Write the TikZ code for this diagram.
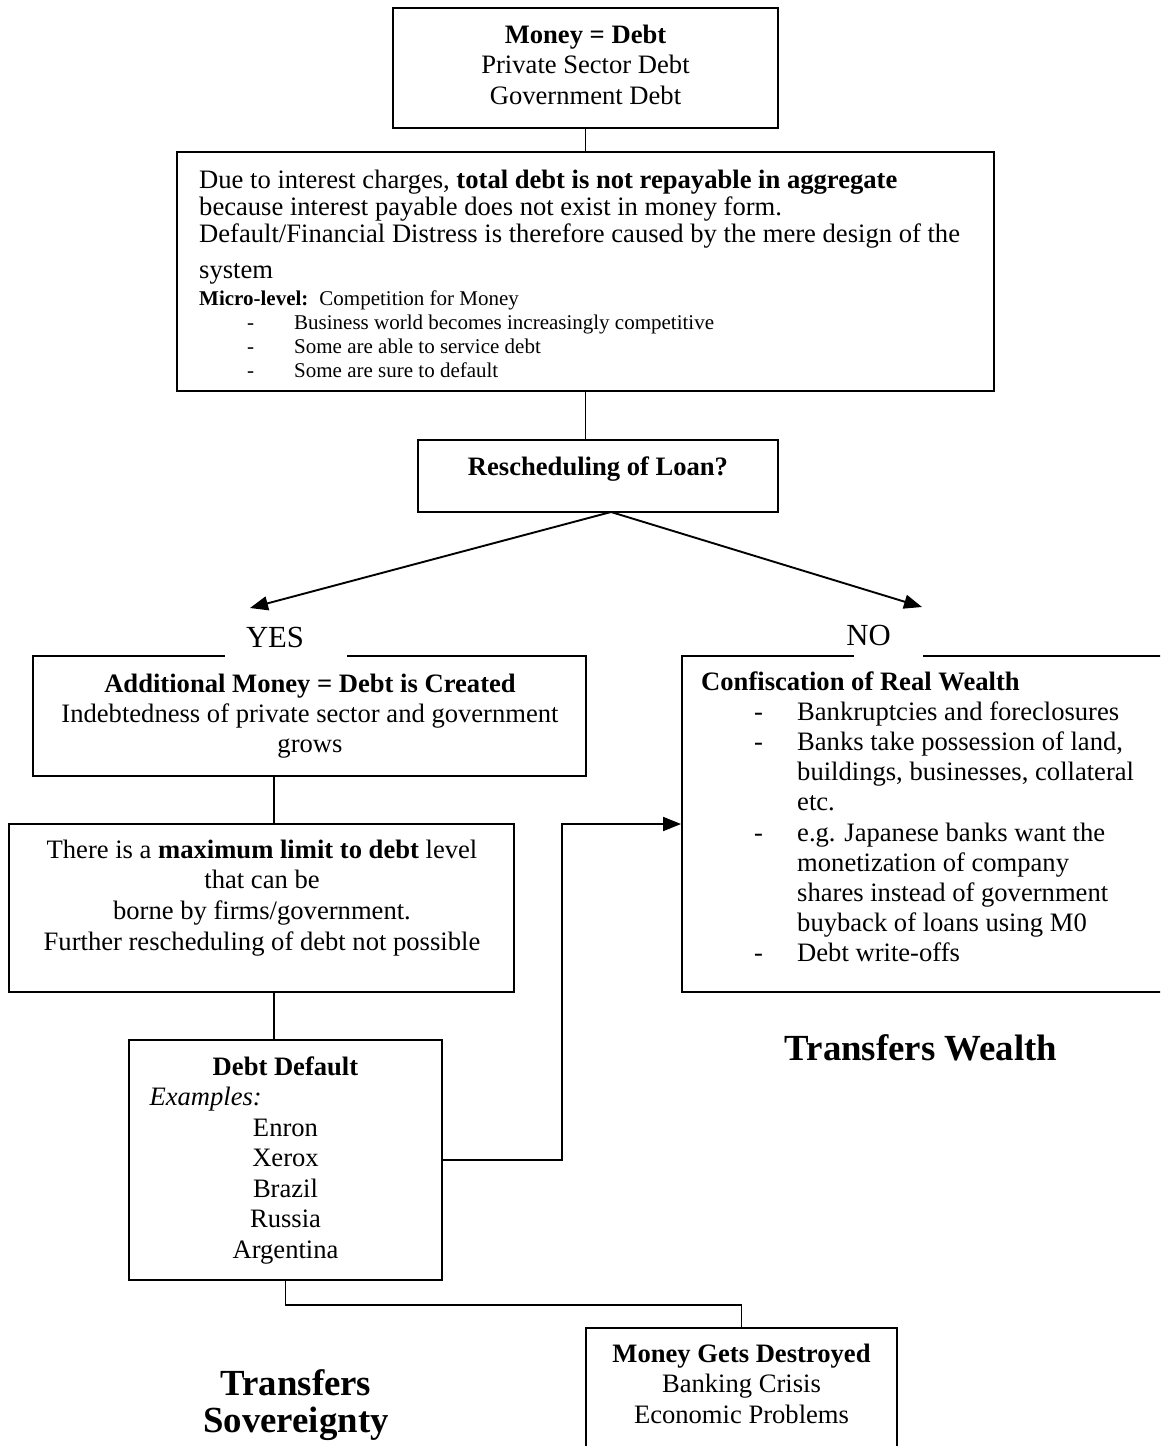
\documentclass[tikz,border=0pt]{standalone}
\usepackage{fontspec}
\setmainfont{Liberation Serif}
\usetikzlibrary{arrows.meta}
\newcommand\fmain{\fontsize{26.6pt}{30.5pt}\selectfont}
\newcommand\fsmall{\fontsize{21pt}{24.3pt}\selectfont}
\newcommand\flabel{\fontsize{30.7pt}{36pt}\selectfont}
\newcommand\fbig{\fontsize{36.8pt}{37pt}\selectfont\bfseries}
\begin{document}
\begin{tikzpicture}[x=1pt,y=-1pt,
  box/.style 2 args={draw, line width=1.9pt, inner sep=0pt, minimum width=#1, minimum height=#2},
  conn/.style={line width=1.9pt},
  arr/.style={line width=1.9pt, -{Triangle[length=18pt,width=14pt]}},
  txtc/.style={inner sep=0pt, text width=#1, align=flush center, anchor=base},
  txtl/.style={inner sep=0pt, text width=#1, align=flush left, anchor=base west},
  lbl/.style={fill=white, inner xsep=0pt, inner ysep=12.5pt, anchor=base, font=\flabel}
]
\useasboundingbox (0,0) rectangle (1160,1446);
\clip (0,0) rectangle (1160,1446);

% boxes
\node[box={385}{120}] (b1) at (585.5,68) {};
\node[box={817}{239}] (b2) at (585.5,271.5) {};
\node[box={360}{72}] (b3) at (598,476) {};
\node[box={553}{120}] (yesbox) at (309.5,716) {};
\node[box={505}{168}] (maxbox) at (261.5,908) {};
\node[box={313}{240}] (ddbox) at (285.5,1160) {};
\node[box={484}{336}] (nobox) at (924,824) {};
\node[box={311}{142}] (mgd) at (741.5,1399) {};

% helper coordinates
\coordinate (fork) at (611,512);
\coordinate (yestip) at (250,608);
\coordinate (notip) at (922,607);
\coordinate (cx1) at (274,0);
\coordinate (jx) at (562,0);

% connectors
\draw[conn] (b1.south) -- (b1.south |- b2.north);
\draw[conn] (b2.south) -- (b2.south |- b3.north);
\draw[arr] (fork) -- (yestip);
\draw[arr] (fork) -- (notip);
\draw[conn] (yesbox.south -| cx1) -- (maxbox.north -| cx1);
\draw[conn] (maxbox.south -| cx1) -- (ddbox.north -| cx1);
\draw[arr] (ddbox.east) -- (ddbox.east -| jx) -- (nobox.west -| jx) -- (nobox.west);
\draw[conn] (ddbox.south) -- ++(0,24) -| (mgd.north);

% labels on box tops
\node[lbl] (yes) at (286,647) {\hspace*{21pt}YES\hspace*{43pt}};
\node[lbl] (no) at (888.5,645) {\hspace*{-8pt}NO\hspace*{32pt}};

% texts
\node[txtc=360pt, font=\fmain] (t1) at (585.5,43)
  {\textbf{Money = Debt}\\Private Sector Debt\\Government Debt};
\node[txtl=790pt, font=\fontsize{26.6pt}{27pt}\selectfont] (t2) at (199,188)
  {Due to interest charges, \textbf{total debt is not repayable in aggregate}\\
   because interest payable does not exist in money form.\\
   Default/Financial Distress is therefore caused by the mere design of the\\[9pt]
   system};
\node[txtl=790pt, font=\fsmall] (t2s) at (199,305)
  {\textbf{Micro-level:}\hspace{11pt}Competition for Money\\
   \hspace*{48pt}\makebox[47pt][l]{-}Business world becomes increasingly competitive\\
   \hspace*{48pt}\makebox[47pt][l]{-}Some are able to service debt\\
   \hspace*{48pt}\makebox[47pt][l]{-}Some are sure to default};
\node[txtc=360pt, font=\fmain\bfseries] (t3) at (598,475) {Rescheduling of Loan?};
\node[txtc=540pt, font=\fontsize{26.6pt}{30pt}\selectfont] (tyes) at (310,692)
  {\textbf{Additional Money = Debt is Created}\\Indebtedness of private sector and government\\grows};
\node[txtc=500pt, font=\fontsize{26.6pt}{30.7pt}\selectfont] (tmax) at (262,858)
  {There is a \textbf{maximum limit to debt} level\\that can be\\borne by firms/government.\\Further rescheduling of debt not possible};
\node[txtc=300pt, font=\fontsize{26.6pt}{30.5pt}\selectfont] (tdd) at (285.5,1075)
  {\textbf{Debt Default}\\\makebox[300pt][l]{\hspace*{14pt}\textit{Examples:}}\\Enron\\Xerox\\Brazil\\Russia\\Argentina};
\node[txtl=470pt, font=\fontsize{26.6pt}{30.2pt}\selectfont] (tno) at (701,690)
  {\textbf{Confiscation of Real Wealth}\\
   \hspace*{53pt}\makebox[43pt][l]{-}Bankruptcies and foreclosures\\
   \hspace*{53pt}\makebox[43pt][l]{-}Banks take possession of land,\\
   \hspace*{96pt}buildings, businesses, collateral\\
   \hspace*{96pt}etc.\\
   \hspace*{53pt}\makebox[43pt][l]{-}e.g. Japanese banks want the\\
   \hspace*{96pt}monetization of company\\
   \hspace*{96pt}shares instead of government\\
   \hspace*{96pt}buyback of loans using M0\\
   \hspace*{53pt}\makebox[43pt][l]{-}Debt write-offs};
\node[txtc=300pt, font=\fmain] (tmgd) at (741.5,1362)
  {\textbf{Money Gets Destroyed}\\Banking Crisis\\Economic Problems};
\node[inner sep=0pt, anchor=base, font=\fbig] (tw) at (921,1060) {Transfers Wealth};
\node[txtc=320pt, font=\fbig] (ts) at (296,1395) {Transfers\\Sovereignty};
\end{tikzpicture}
\end{document}
